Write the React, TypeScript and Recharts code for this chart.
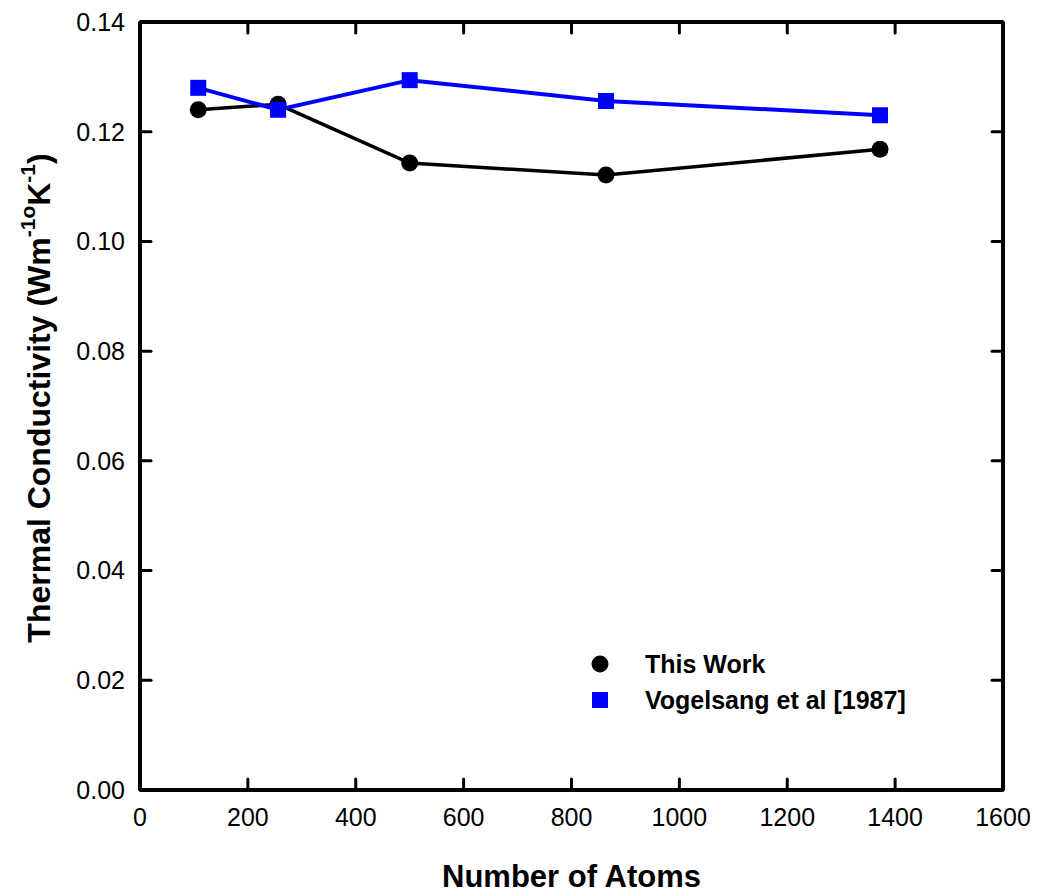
import React from "react";
import {
  LineChart,
  Line,
  XAxis,
  YAxis,
  Legend,
} from "recharts";

const atoms = [108, 256, 500, 864, 1372];
const thisWork = [0.124, 0.125, 0.1143, 0.1121, 0.1168];
const vogelsang = [0.128, 0.124, 0.1294, 0.1256, 0.123];

const xTicks = [0, 200, 400, 600, 800, 1000, 1200, 1400, 1600];
const yTicks = [0, 0.02, 0.04, 0.06, 0.08, 0.1, 0.12, 0.14];

const data = atoms.map((n, i) => ({
  atoms: n,
  thisWork: thisWork[i],
  vogelsang: vogelsang[i],
}));

const FONT = "'Liberation Sans', Arial, Helvetica, sans-serif";
const AXIS = { stroke: "#000", strokeWidth: 4 };
const TICK_LEN = 11;
const X_GAP = 17;
const Y_GAP = 14;
// recharts offsets the label by tickSize + tickMargin; tickSize is kept at 1
const TS = 1;

// ticks point inward, so the tick mark is drawn along with the label
function BottomTick(props: any) {
  const { x, y, payload } = props;
  const ay = y - TS - X_GAP;
  return (
    <g>
      <line x1={x} x2={x} y1={ay} y2={ay - TICK_LEN} stroke="#000" strokeWidth={3} strokeLinecap="round" />
      <text x={x} y={y} dy="0.71em" textAnchor="middle" fontFamily={FONT} fontSize={25} fill="#000">
        {payload.value}
      </text>
    </g>
  );
}

function LeftTick(props: any) {
  const { x, y, payload } = props;
  const ax = x + TS + Y_GAP;
  return (
    <g>
      <line x1={ax} x2={ax + TICK_LEN} y1={y} y2={y} stroke="#000" strokeWidth={3} strokeLinecap="round" />
      <text x={x} y={y} dy="0.355em" textAnchor="end" fontFamily={FONT} fontSize={25} fill="#000">
        {Number(payload.value).toFixed(2)}
      </text>
    </g>
  );
}

function TopTick(props: any) {
  const { x, y } = props;
  const ay = y + TS;
  return <line x1={x} x2={x} y1={ay} y2={ay + TICK_LEN} stroke="#000" strokeWidth={3} strokeLinecap="round" />;
}

function RightTick(props: any) {
  const { x, y } = props;
  const ax = x - TS;
  return <line x1={ax} x2={ax - TICK_LEN} y1={y} y2={y} stroke="#000" strokeWidth={3} strokeLinecap="round" />;
}

function SquareDot(props: any) {
  const { cx, cy, index } = props;
  if (cx == null || cy == null) return <g key={index} />;
  return <rect key={index} x={cx - 8} y={cy - 8} width={16} height={16} fill="#0000ff" />;
}

function YTitle(props: any) {
  const vb = props.viewBox || {};
  const x = vb.x - 1;
  const y = vb.y + vb.height / 2 - 8;
  return (
    <text
      x={x}
      y={y}
      transform={`rotate(-90 ${x} ${y})`}
      textAnchor="middle"
      dominantBaseline="central"
      fontFamily={FONT}
      fontWeight="bold"
      fontSize={32}
      fill="#000"
    >
      Thermal Conductivity (Wm
      <tspan fontSize={21} dy={-12}>-1o</tspan>
      <tspan dy={12}>K</tspan>
      <tspan fontSize={21} dy={-12}>-1</tspan>
      <tspan dy={12}>)</tspan>
    </text>
  );
}

function XTitle(props: any) {
  const vb = props.viewBox || {};
  return (
    <text
      x={vb.x + vb.width / 2}
      y={879}
      textAnchor="middle"
      fontFamily={FONT}
      fontWeight="bold"
      fontSize={31}
      fill="#000"
    >
      Number of Atoms
    </text>
  );
}

function LegendBox() {
  const row = { display: "flex", alignItems: "center", height: 36 };
  const label = { fontFamily: FONT, fontWeight: "bold" as const, fontSize: 25, color: "#000", marginLeft: 36 };
  return (
    <div>
      <div style={row}>
        <svg width={18} height={18}>
          <circle cx={9} cy={9} r={8.5} fill="#000" />
        </svg>
        <span style={label}>This Work</span>
      </div>
      <div style={row}>
        <svg width={18} height={18}>
          <rect x={1} y={1} width={16} height={16} fill="#0000ff" />
        </svg>
        <span style={label}>Vogelsang et al [1987]</span>
      </div>
    </div>
  );
}

export default function App() {
  return (
    <LineChart
      width={1030}
      height={887}
      data={data}
      margin={{ top: 13, right: 34, left: 32, bottom: 5 }}
    >
      <XAxis
        xAxisId="bottom"
        dataKey="atoms"
        type="number"
        domain={[0, 1600]}
        ticks={xTicks}
        allowDataOverflow
        height={100}
        axisLine={AXIS}
        tickLine={false}
        tickSize={TS}
        tickMargin={X_GAP}
        tick={BottomTick}
        interval={0}
        label={{ content: XTitle }}
      />
      <XAxis
        xAxisId="top"
        orientation="top"
        dataKey="atoms"
        type="number"
        domain={[0, 1600]}
        ticks={xTicks}
        allowDataOverflow
        height={1}
        axisLine={AXIS}
        tickLine={false}
        tickSize={TS}
        tickMargin={0}
        tick={TopTick}
        interval={0}
      />
      <YAxis
        yAxisId="left"
        type="number"
        domain={[0, 0.14]}
        ticks={yTicks}
        allowDataOverflow
        width={100}
        axisLine={AXIS}
        tickLine={false}
        tickSize={TS}
        tickMargin={Y_GAP}
        tick={LeftTick}
        interval={0}
        label={{ content: YTitle }}
      />
      <YAxis
        yAxisId="right"
        orientation="right"
        type="number"
        domain={[0, 0.14]}
        ticks={yTicks}
        allowDataOverflow
        width={1}
        axisLine={AXIS}
        tickLine={false}
        tickSize={TS}
        tickMargin={0}
        tick={RightTick}
        interval={0}
      />
      <Line
        xAxisId="bottom"
        yAxisId="left"
        dataKey="thisWork"
        name="This Work"
        stroke="#000"
        strokeWidth={3.5}
        dot={{ r: 8.5, fill: "#000", stroke: "#000", strokeWidth: 0 }}
        isAnimationActive={false}
      />
      <Line
        xAxisId="top"
        yAxisId="right"
        dataKey="vogelsang"
        name="Vogelsang et al [1987]"
        stroke="#0000ff"
        strokeWidth={4}
        dot={SquareDot}
        isAnimationActive={false}
      />
      <Legend
        layout="horizontal"
        verticalAlign="middle"
        align="center"
        content={LegendBox}
        wrapperStyle={{ left: 583, top: 638, width: 400, height: 72 }}
      />
    </LineChart>
  );
}
